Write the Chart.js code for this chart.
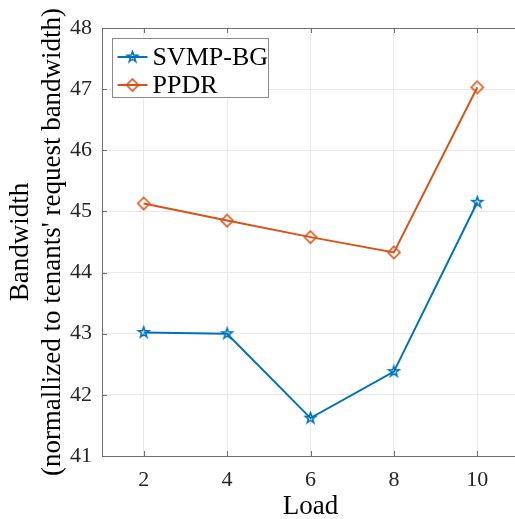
<!DOCTYPE html>
<html>
<head>
<meta charset="utf-8">
<script src="https://cdn.jsdelivr.net/npm/chart.js@4/dist/chart.umd.min.js"></script>
<style>
  html, body { margin: 0; padding: 0; background: #fff; overflow: hidden; }
  #wrap { width: 525px; height: 519px; }
</style>
</head>
<body>
<div id="wrap"><canvas id="chart" width="525" height="519"></canvas></div>
<script>
const loads = [2, 4, 6, 8, 10];
const svmpBg = [43.02, 43.0, 41.62, 42.38, 45.15];
const ppdr = [45.13, 44.85, 44.58, 44.33, 47.03];
const xTicks = [2, 4, 6, 8, 10];
const yTicks = [41, 42, 43, 44, 45, 46, 47, 48];
const seriesNames = ['SVMP-BG', 'PPDR'];

const BLUE = '#0072BD';
const ORANGE = '#D95319';
const AXIS = '#6f6f6f';
const SERIF = "'Liberation Serif', 'Times New Roman', serif";

// hollow marker sprites, reused by the legend
function makeMarker(shape, color, r) {
  const size = Math.ceil(r * 2 + 4);
  const c = document.createElement('canvas');
  c.width = c.height = size;
  const g = c.getContext('2d');
  const m = size / 2;
  g.strokeStyle = color;
  g.lineWidth = 1.6;
  g.beginPath();
  if (shape === 'pentagram') {
    for (let i = 0; i < 10; i++) {
      const a = -Math.PI / 2 + i * Math.PI / 5;
      const rr = i % 2 ? r * 0.4 : r;
      g.lineTo(m + rr * Math.cos(a), m + rr * Math.sin(a));
    }
  } else {
    g.moveTo(m, m - r);
    g.lineTo(m + r, m);
    g.lineTo(m, m + r);
    g.lineTo(m - r, m);
  }
  g.closePath();
  g.stroke();
  return c;
}

const starMark = makeMarker('pentagram', BLUE, 5.5);
const diamondMark = makeMarker('diamond', ORANGE, 6);

const frame = {
  id: 'frame',
  afterDraw(chart) {
    const { ctx, chartArea: a, scales: { x, y } } = chart;
    const seg = (x1, y1, x2, y2) => { ctx.beginPath(); ctx.moveTo(x1, y1); ctx.lineTo(x2, y2); ctx.stroke(); };
    ctx.save();
    ctx.strokeStyle = AXIS;
    ctx.lineWidth = 1;
    seg(a.left, a.top + 0.5, a.right, a.top + 0.5);
    xTicks.forEach(v => {
      const px = Math.round(x.getPixelForValue(v)) + 0.5;
      seg(px, a.bottom, px, a.bottom - 5);
      seg(px, a.top, px, a.top + 5);
    });
    yTicks.forEach(v => {
      const py = Math.round(y.getPixelForValue(v)) + 0.5;
      seg(a.left, py, a.left + 5, py);
    });

    // legend box in the upper left corner
    const bx = a.left + 10.5, by = a.top + 10.5, bw = 156, bh = 59;
    ctx.fillStyle = '#fff';
    ctx.fillRect(bx, by, bw, bh);
    ctx.strokeStyle = '#8a8a8a';
    ctx.strokeRect(bx, by, bw, bh);
    ctx.font = '26px ' + SERIF;
    ctx.textBaseline = 'middle';
    chart.data.datasets.forEach((ds, i) => {
      const cy = by + 18.5 + i * 28;
      ctx.strokeStyle = ds.borderColor;
      ctx.lineWidth = 2;
      seg(bx + 5, cy, bx + 35, cy);
      const img = ds.pointStyle;
      ctx.drawImage(img, bx + 20 - img.width / 2, cy - img.height / 2);
      ctx.fillStyle = '#000';
      ctx.fillText(ds.label, bx + 40, cy + 1);
    });
    ctx.restore();
  }
};

new Chart(document.getElementById('chart'), {
  type: 'line',
  data: {
    datasets: [
      {
        label: seriesNames[0],
        data: loads.map((v, i) => ({ x: v, y: svmpBg[i] })),
        borderColor: BLUE,
        borderWidth: 2,
        pointStyle: starMark,
        tension: 0,
        fill: false
      },
      {
        label: seriesNames[1],
        data: loads.map((v, i) => ({ x: v, y: ppdr[i] })),
        borderColor: ORANGE,
        borderWidth: 2,
        pointStyle: diamondMark,
        tension: 0,
        fill: false
      }
    ]
  },
  options: {
    responsive: false,
    animation: false,
    devicePixelRatio: 1,
    layout: { padding: { top: 28, right: 4, left: 0, bottom: 0 } },
    plugins: { legend: { display: false }, tooltip: { enabled: false } },
    scales: {
      x: {
        type: 'linear',
        min: 1,
        max: 11,
        afterBuildTicks: s => { s.ticks = xTicks.map(v => ({ value: v })); },
        afterFit: s => { s.height = 63; },
        grid: { color: '#e9e9e9', drawTicks: false },
        border: { color: AXIS },
        ticks: { color: '#262626', padding: 11, font: { family: SERIF, size: 22 } },
        title: {
          display: true,
          text: 'Load',
          color: '#000',
          padding: 0,
          font: { family: SERIF, size: 27, lineHeight: 0.9 }
        }
      },
      y: {
        min: 41,
        max: 48,
        afterBuildTicks: s => { s.ticks = yTicks.map(v => ({ value: v })); },
        afterFit: s => { s.width = 102; },
        grid: { color: '#e9e9e9', drawTicks: false },
        border: { color: AXIS },
        ticks: { color: '#262626', padding: 10, font: { family: SERIF, size: 22 } },
        title: {
          display: true,
          text: ['Bandwidth', "(normallized to tenants' request bandwidth)"],
          color: '#000',
          padding: { top: 5, bottom: 0 },
          font: { family: SERIF, size: 27, lineHeight: 1.185 }
        }
      }
    }
  },
  plugins: [frame]
});
</script>
</body>
</html>
